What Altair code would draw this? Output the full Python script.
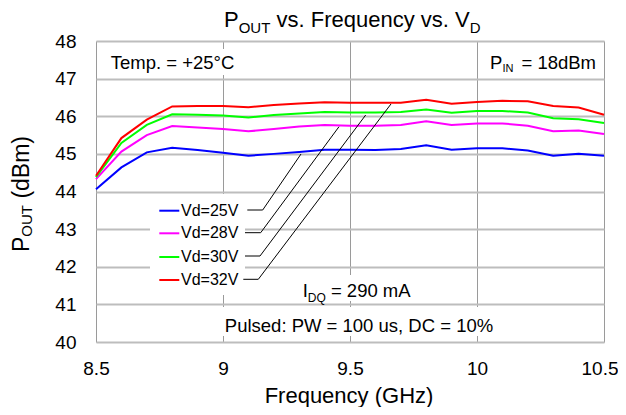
import altair as alt
import pandas as pd

# ---------------- data ----------------
freq = [8.5, 8.6, 8.7, 8.8, 8.9, 9.0, 9.1, 9.2, 9.3, 9.4, 9.5,
        9.6, 9.7, 9.8, 9.9, 10.0, 10.1, 10.2, 10.3, 10.4, 10.5]
series = ["Vd=25V", "Vd=28V", "Vd=30V", "Vd=32V"]
colors = ["#0000FF", "#FF00FF", "#00FF00", "#FF0000"]
p_25 = [44.06, 44.64, 45.04, 45.16, 45.10, 45.03, 44.95, 45.00, 45.05, 45.11, 45.11,
        45.10, 45.13, 45.23, 45.11, 45.15, 45.15, 45.09, 44.95, 45.00, 44.95]
p_28 = [44.33, 45.06, 45.50, 45.74, 45.70, 45.66, 45.60, 45.66, 45.73, 45.77, 45.75,
        45.75, 45.77, 45.87, 45.77, 45.81, 45.81, 45.75, 45.60, 45.62, 45.53]
p_30 = [44.38, 45.29, 45.77, 46.05, 46.04, 46.02, 45.97, 46.03, 46.07, 46.11, 46.10,
        46.10, 46.11, 46.18, 46.09, 46.14, 46.14, 46.10, 45.95, 45.92, 45.82]
p_32 = [44.42, 45.42, 45.91, 46.26, 46.27, 46.27, 46.24, 46.30, 46.34, 46.37, 46.36,
        46.36, 46.36, 46.44, 46.33, 46.38, 46.41, 46.40, 46.27, 46.23, 46.04]
x_ticks = [8.5, 9, 9.5, 10, 10.5]
y_ticks = [40, 41, 42, 43, 44, 45, 46, 47, 48]

rows = []
for name, vals in zip(series, [p_25, p_28, p_30, p_32]):
    for f, v in zip(freq, vals):
        rows.append({"freq": f, "pout": v, "series": name})
df = pd.DataFrame(rows)

FONT = "Liberation Sans"
W, H = 508, 301
one = alt.Data(values=[{}])


def txt(s, x, y, size, align="left", angle=None, baseline="alphabetic"):
    kw = dict(text=s, align=align, baseline=baseline, fontSize=size,
              font=FONT, color="black")
    if angle is not None:
        kw["angle"] = angle
    return alt.Chart(one).mark_text(**kw).encode(x=alt.value(x), y=alt.value(y))


def box(x1, x2, y1, y2):
    return alt.Chart(one).mark_rect(color="white").encode(
        x=alt.value(x1), x2=alt.value(x2), y=alt.value(y1), y2=alt.value(y2))


def seg(x1, y1, x2, y2, color="black", width=1.0):
    return alt.Chart(one).mark_rule(color=color, strokeWidth=width).encode(
        x=alt.value(x1), x2=alt.value(x2), y=alt.value(y1), y2=alt.value(y2))


lines = alt.Chart(df).mark_line(strokeWidth=2).encode(
    x=alt.X("freq:Q",
            scale=alt.Scale(domain=[8.5, 10.5], nice=False, zero=False),
            axis=alt.Axis(values=x_ticks, format="~g", title=None, grid=True,
                          gridColor="#9a9a9a", gridWidth=1, ticks=False, tickSize=0,
                          domain=False, labelFontSize=19, labelPadding=17,
                          labelColor="black", labelFont=FONT, labelFlush=False,
                          labelOverlap=False,
                          # keep the last label inside the page edge
                          labelAlign=alt.expr("datum.value == 10.5 ? 'right' : 'center'"),
                          labelOffset=alt.expr("datum.value == 10.5 ? 14 : 0"))),
    y=alt.Y("pout:Q",
            scale=alt.Scale(domain=[40, 48], nice=False, zero=False),
            axis=alt.Axis(values=y_ticks, format="d", title=None, grid=True,
                          gridColor="#bdbdbd", gridWidth=2, ticks=False, tickSize=0,
                          domain=False, labelFontSize=19, labelPadding=20,
                          labelColor="black", labelFont=FONT, labelFlush=False,
                          labelOverlap=False)),
    color=alt.Color("series:N", scale=alt.Scale(domain=series, range=colors), legend=None),
    detail="series:N",
)

layers = []
# white backgrounds of the text boxes
layers += [box(4, 144, 8, 34), box(54, 149, 153, 254),
           box(202, 319, 234, 260), box(124, 401, 266, 295)]
layers.append(lines)

# legend
leg_y = [169.7, 192.3, 216, 239]
for name, c, yy in zip(series, colors, leg_y):
    layers.append(seg(63.3, yy, 83.3, yy, color=c, width=2))
    layers.append(txt(name, 85, yy, 16, baseline="middle"))

# leader lines
leaders = [((151.3, 169), (166.7, 169), (205, 113)),
           ((149, 191.7), (164.7, 191.7), (243, 85.7)),
           ((149, 215), (164, 215), (269.7, 74)),
           ((147.3, 238.3), (162.3, 238.3), (295, 63))]
for a, b, c in leaders:
    layers.append(seg(a[0], a[1], b[0], b[1]))
    layers.append(seg(b[0], b[1], c[0], c[1]))

# title (P_OUT vs. Frequency vs. V_D)
layers += [txt("P", 128, -14, 22),
           txt("OUT", 142.7, -8.5, 15),
           txt("vs. Frequency vs. V", 180.5, -14, 22),
           txt("D", 373.8, -8.5, 15)]
# y axis title (rotated)
layers += [txt("P", -67, 211, 23, angle=270),
           txt("OUT", -64, 195.7, 15, angle=270),
           txt("(dBm)", -67, 157.6, 23, angle=270)]
# x axis title
layers.append(txt("Frequency (GHz)", 253, 361.5, 22, align="center"))

# annotations
layers.append(txt("Temp. = +25°C", 14.7, 28.3, 18.5))
layers += [txt("P", 394, 28.3, 18.5),
           txt("IN", 406.5, 31, 11),
           txt("= 18dBm", 500, 28.3, 18.5, align="right")]
layers += [txt("I", 206.7, 255.7, 18.5),
           txt("DQ", 211.8, 260.5, 12),
           txt("= 290 mA", 234.9, 255.7, 18.5)]
layers.append(txt("Pulsed: PW = 100 us, DC = 10%", 263, 290.7, 18.5, align="center"))

chart = alt.layer(*layers).properties(
    width=W, height=H,
    autosize=alt.AutoSizeParams(type="none"),
    padding={"left": 88, "top": 33, "right": 14, "bottom": 65},
).configure_view(stroke="#8c8c8c", strokeWidth=1.5).configure(font=FONT)

chart.save("out.html", embed_options={"renderer": "svg", "actions": False})
